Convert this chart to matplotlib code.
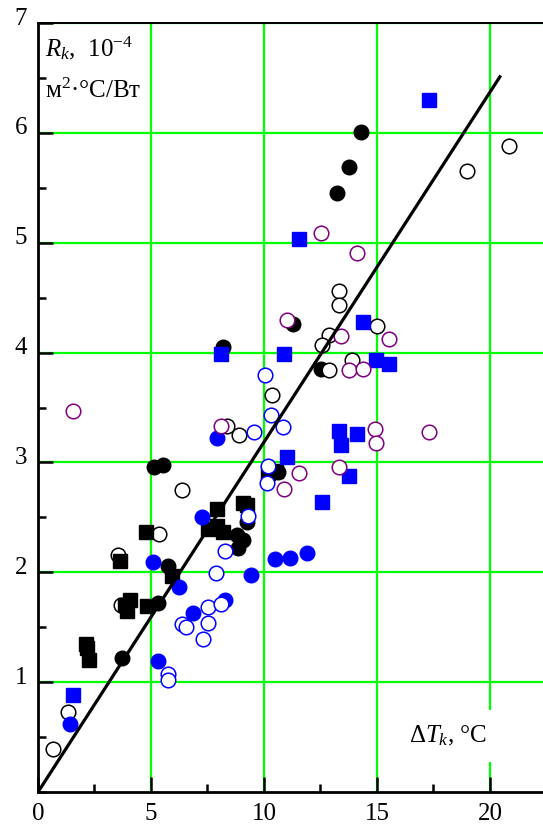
import matplotlib

matplotlib.use("Agg")
import matplotlib.pyplot as plt
import matplotlib.transforms as mtransforms
from matplotlib.ticker import MultipleLocator

# --- data (dT_k in degC, R_k in 1e-4 m2*degC/W) ---
black_fill_x = [14.29, 13.76, 13.23, 11.30, 8.17, 12.51, 5.13, 5.52, 10.63,
                9.26, 8.79, 9.08, 8.86, 5.77, 5.30, 3.70]
black_fill_y = [6.01, 5.69, 5.45, 4.26, 4.05, 3.85, 2.96, 2.98, 2.91,
                2.46, 2.34, 2.29, 2.22, 2.06, 1.72, 1.22]

black_open_x = [20.83, 18.98, 13.32, 13.32, 14.99, 12.89, 12.55, 13.88, 12.89,
                10.34, 8.38, 8.88, 6.36, 5.37, 3.55, 3.66, 1.33, 0.66]
black_open_y = [5.88, 5.65, 4.56, 4.43, 4.24, 4.16, 4.07, 3.93, 3.84,
                3.61, 3.33, 3.25, 2.75, 2.35, 2.16, 1.70, 0.73, 0.39]

black_sq_x = [10.19, 10.53, 9.08, 9.23, 7.93, 4.78, 7.54, 7.90, 8.20,
              3.63, 5.91, 4.07, 3.92, 3.85, 4.84, 2.12, 2.15, 2.27]
black_sq_y = [2.90, 2.92, 2.63, 2.61, 2.58, 2.37, 2.39, 2.42, 2.37,
              2.10, 1.97, 1.75, 1.65, 1.70, 1.69, 1.35, 1.31, 1.20]

blue_fill_x = [7.91, 7.24, 5.10, 10.49, 11.15, 11.89, 9.42, 6.24, 8.27, 6.87, 5.30, 1.42]
blue_fill_y = [3.22, 2.50, 2.09, 2.12, 2.13, 2.18, 1.98, 1.87, 1.75, 1.63, 1.19, 0.62]

blue_open_x = [10.04, 10.29, 10.83, 9.56, 10.19, 10.15, 9.31, 8.27, 7.86,
               7.54, 8.08, 6.36, 6.55, 7.54, 7.29, 5.77, 5.77]
blue_open_y = [3.80, 3.43, 3.32, 3.28, 2.97, 2.81, 2.51, 2.19, 1.99,
               1.68, 1.71, 1.53, 1.50, 1.54, 1.39, 1.07, 1.02]

blue_sq_x = [17.30, 11.56, 14.37, 8.08, 10.88, 14.96, 15.54, 13.33, 14.10,
             13.41, 11.03, 13.76, 12.55, 1.53]
blue_sq_y = [6.30, 5.03, 4.28, 3.99, 3.99, 3.93, 3.90, 3.29, 3.26,
             3.16, 3.05, 2.88, 2.64, 0.88]

purple_x = [12.52, 14.10, 11.03, 13.41, 15.54, 13.76, 14.37, 8.08, 1.53,
            14.91, 14.94, 17.30, 13.33, 11.55, 10.88]
purple_y = [5.09, 4.91, 4.30, 4.15, 4.12, 3.84, 3.85, 3.33, 3.47,
            3.30, 3.18, 3.28, 2.96, 2.90, 2.76]

fit_x = [0.0, 20.44]
fit_y = [0.0, 6.51]

plt.rcParams["font.family"] = ["Liberation Serif", "DejaVu Serif"]
plt.rcParams["mathtext.fontset"] = "custom"
plt.rcParams["mathtext.rm"] = "Liberation Serif"
plt.rcParams["mathtext.it"] = "Liberation Serif:italic"

fig = plt.figure(figsize=(5.43, 8.31), dpi=100)
ax = fig.add_axes([0.070, 0.0469, 0.930, 0.9254])

ax.set_xlim(0, 22.35)
ax.set_ylim(0, 7)
ax.xaxis.set_major_locator(MultipleLocator(5))
ax.xaxis.set_minor_locator(MultipleLocator(2.5))
ax.yaxis.set_major_locator(MultipleLocator(1))
ax.yaxis.set_minor_locator(MultipleLocator(0.5))
ax.set_yticks([1, 2, 3, 4, 5, 6, 7])
ax.tick_params(which="both", direction="in", top=False, right=False,
               labelsize=18, width=1.8)
ax.tick_params(which="major", length=11, pad=8)
ax.tick_params(which="minor", length=6)
for lab in ax.get_yticklabels():
    lab.set_transform(lab.get_transform() +
                      mtransforms.ScaledTranslation(0, 5 / 72, fig.dpi_scale_trans))

ax.grid(True, which="major", color="#00ff00", linewidth=1.6, zorder=0)
ax.set_axisbelow(True)
ax.spines["right"].set_visible(False)
ax.spines["left"].set_linewidth(2.0)
ax.spines["bottom"].set_linewidth(2.0)
ax.spines["top"].set_linewidth(1.4)

ms = 10.5
ax.plot(black_fill_x, black_fill_y, "o", ms=ms, color="black", zorder=3)
ax.plot(black_open_x, black_open_y, "o", ms=ms, mfc="white", mec="black",
        mew=1.1, zorder=4)
ax.plot(black_sq_x, black_sq_y, "s", ms=10, color="black", zorder=5)
ax.plot(blue_fill_x, blue_fill_y, "o", ms=ms, color="#0000ff", zorder=5)
ax.plot(blue_open_x, blue_open_y, "o", ms=ms, mfc="white", mec="#0000ff",
        mew=1.1, zorder=6)
ax.plot(blue_sq_x, blue_sq_y, "s", ms=10, color="#0000ff", zorder=7)
ax.plot(purple_x, purple_y, "o", ms=ms, mfc="white", mec="#800080",
        mew=1.1, zorder=7)

ax.plot(fit_x, fit_y, color="black", linewidth=2.3, zorder=8)

ax.text(0.31, 6.70, r"$R_k$,  $10^{-4}$", fontsize=18, ha="left", va="baseline")
ax.text(0.31, 6.32, "м$^2$·°C/Вт", fontsize=18, ha="left", va="baseline")
ax.text(16.4, 0.45, r"$\Delta T_k$, °C", fontsize=18, ha="left", va="baseline",
        zorder=9, bbox=dict(facecolor="white", edgecolor="none", pad=10))

fig.savefig("out.png", dpi=100)
